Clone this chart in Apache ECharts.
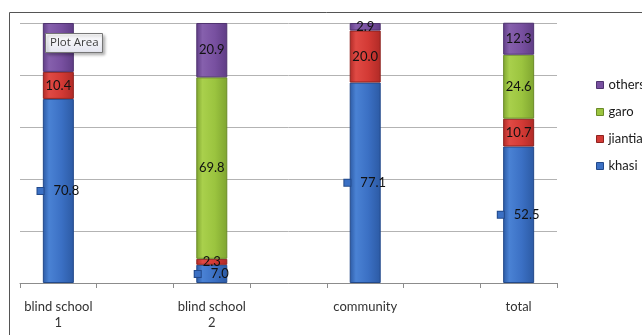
<!DOCTYPE html>
<html>
<head>
<meta charset="utf-8">
<script src="https://cdn.jsdelivr.net/npm/echarts@6/dist/echarts.min.js"></script>
<style>
  html, body { margin: 0; padding: 0; background: #ffffff; }
  #chart { width: 642px; height: 335px; }
</style>
</head>
<body>
<div id="chart"></div>
<script>
// Groups along the x axis (blank slots leave gaps between the bars)
const categories = ['blind school\n1', '', 'blind school\n2', '', 'community', '', 'total'];

// Percentage share of each group, stacked bottom to top
const khasi   = [70.8, null, 7.0,  null, 77.1, null, 52.5];
const jiantia = [10.4, null, 2.3,  null, 20.0, null, 10.7];
const garo    = [null, null, 69.8, null, null, null, 24.6];
const others  = [18.8, null, 20.9, null, 2.9,  null, 12.3];

const legendOrder = ['others', 'garo', 'jiantia', 'khasi'];

const FONT = 'Lato, "Liberation Sans", sans-serif';

// Horizontal shading for the column faces
function shade(edge, mid, light) {
  return {
    type: 'linear', x: 0, y: 0, x2: 1, y2: 0,
    colorStops: [
      { offset: 0, color: edge },
      { offset: 0.2, color: light },
      { offset: 0.6, color: mid },
      { offset: 1, color: edge }
    ]
  };
}

const palette = {
  khasi:   { fill: shade('#2c5aa4', '#3b70c4', '#4a82d4'), border: '#22498a', key: '#3b70c4' },
  jiantia: { fill: shade('#b02a26', '#d33a35', '#e04a44'), border: '#8e221f', key: '#d33a35' },
  garo:    { fill: shade('#7fa530', '#9bc43f', '#a9d04c'), border: '#6a8a28', key: '#9bc43f' },
  others:  { fill: shade('#5f3d85', '#7850a0', '#8660ad'), border: '#4f3370', key: '#7850a0' }
};

function fmt(v) { return v.toFixed(1); }

function makeSeries(name, data, withKey) {
  const p = palette[name];
  return {
    name: name,
    type: 'bar',
    stack: 'share',
    barWidth: 31,
    data: data,
    itemStyle: { color: p.fill, borderColor: p.border, borderWidth: 1 },
    label: {
      show: true,
      position: 'inside',
      fontFamily: FONT,
      fontSize: 13,
      color: '#111111',
      formatter: function (prm) {
        if (prm.value == null) return '';
        return withKey ? '{k|}{v|' + fmt(prm.value) + '}' : fmt(prm.value);
      },
      rich: withKey ? {
        k: { width: 6, height: 6, backgroundColor: p.key, borderColor: p.border, borderWidth: 1 },
        v: { fontFamily: FONT, fontSize: 13, color: '#111111', padding: [0, 0, 0, 10] }
      } : undefined
    },
    emphasis: { disabled: true }
  };
}

const chart = echarts.init(document.getElementById('chart'), null, { renderer: 'canvas' });

chart.setOption({
  animation: false,
  backgroundColor: '#ffffff',
  grid: { left: 20, right: 85, top: 23, bottom: 52, containLabel: false },
  legend: {
    orient: 'vertical',
    left: 591,
    top: 73,
    itemWidth: 7,
    itemHeight: 7,
    itemGap: 13,
    icon: 'rect',
    data: legendOrder.map(n => ({
      name: n,
      itemStyle: { color: palette[n].key, borderColor: palette[n].border, borderWidth: 1 }
    })),
    textStyle: { fontFamily: FONT, fontSize: 13, color: '#1a1a1a', lineHeight: 14 },
    selectedMode: false
  },
  xAxis: {
    type: 'category',
    data: categories,
    axisLine: { show: true, lineStyle: { color: '#8c8c8c', width: 1 } },
    axisTick: { show: true, interval: 0, alignWithLabel: false, length: 5, lineStyle: { color: '#8c8c8c' } },
    axisLabel: {
      interval: 0,
      margin: 16,
      fontFamily: FONT,
      fontSize: 13,
      lineHeight: 16,
      color: '#333333'
    }
  },
  yAxis: {
    type: 'value',
    min: 0,
    max: 100,
    interval: 20,
    axisLine: { show: false },
    axisTick: { show: false },
    axisLabel: { show: false },
    splitLine: { show: true, lineStyle: { color: '#b3b3b3', width: 1 } }
  },
  series: [
    makeSeries('khasi', khasi, true),
    makeSeries('jiantia', jiantia, false),
    makeSeries('garo', garo, false),
    makeSeries('others', others, false)
  ],
  graphic: [
    // chart frame
    {
      type: 'rect',
      shape: { x: 9.5, y: 12.5, width: 700, height: 400 },
      style: { fill: 'none', stroke: '#555555', lineWidth: 1 },
      silent: true
    },
    // hover hint box
    {
      type: 'rect',
      z: 100,
      zlevel: 1,
      shape: { x: 45.5, y: 33.5, width: 57, height: 19 },
      style: {
        fill: {
          type: 'linear', x: 0, y: 0, x2: 0, y2: 1,
          colorStops: [{ offset: 0, color: '#ffffff' }, { offset: 1, color: '#e4e5f0' }]
        },
        stroke: '#767676',
        lineWidth: 1,
        shadowBlur: 3,
        shadowOffsetX: 2,
        shadowOffsetY: 2,
        shadowColor: 'rgba(0,0,0,0.3)'
      }
    },
    {
      type: 'text',
      z: 101,
      zlevel: 1,
      x: 50,
      y: 37,
      style: { text: 'Plot Area', font: '11.5px "Open Sans", "DejaVu Sans", sans-serif', fill: '#3c3c3c' }
    }
  ]
});
</script>
</body>
</html>
